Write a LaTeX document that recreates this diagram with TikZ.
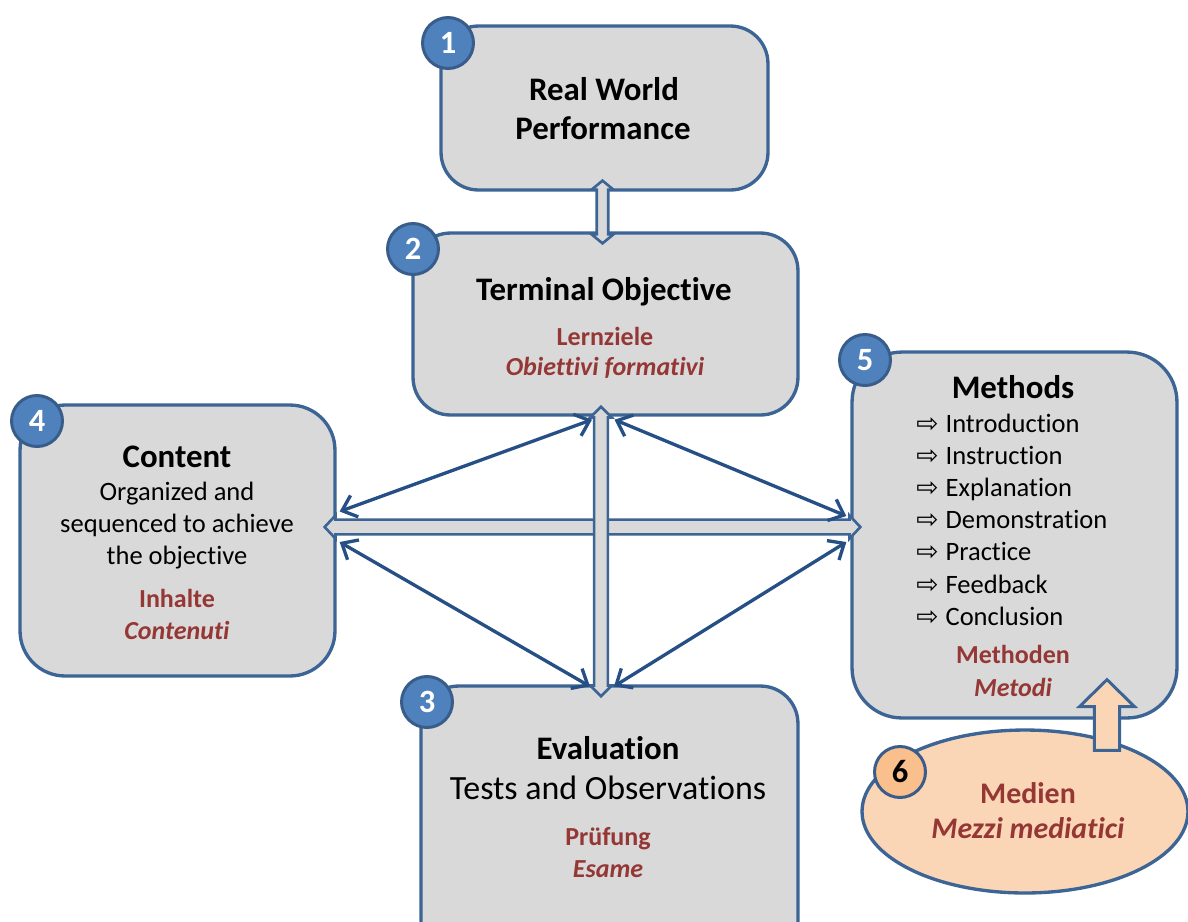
\documentclass[tikz,border=0pt]{standalone}
\usepackage{fontspec}
\setmainfont[Ligatures=NoCommon]{Carlito}
\newfontfamily\symfont{DejaVu Sans}
\usetikzlibrary{calc, arrows.meta, shapes.geometric}

\definecolor{boxfill}{HTML}{D9D9D9}
\definecolor{boxline}{HTML}{3C6494}
\definecolor{badgefill}{HTML}{4F81BD}
\definecolor{badgeline}{HTML}{385D8A}
\definecolor{linkblue}{HTML}{264F86}
\definecolor{dered}{HTML}{953735}
\definecolor{peach}{HTML}{FBD6B6}
\definecolor{peachdark}{HTML}{F9BF8C}

% hollow double arrow: from, to, shaft half width, head half width, head length, style
\newcommand\hollowlink[6]{%
  \coordinate (hA) at (#1);
  \coordinate (hB) at (#2);
  \coordinate (hA1) at ($(hA)!#5!(hB)$);
  \coordinate (hB1) at ($(hB)!#5!(hA)$);
  \filldraw[#6] (hA) -- ($(hA1)!#4!90:(hB)$) -- ($(hA1)!#3!90:(hB)$)
    -- ($(hB1)!#3!-90:(hA)$) -- ($(hB1)!#4!-90:(hA)$) -- (hB)
    -- ($(hB1)!#4!90:(hA)$) -- ($(hB1)!#3!90:(hA)$)
    -- ($(hA1)!#3!-90:(hB)$) -- ($(hA1)!#4!-90:(hB)$) -- cycle;
}

\begin{document}
\begin{tikzpicture}[
  x=0.02cm, y=-0.02cm,
  every node/.style={inner sep=0pt},
  stage/.style={draw=boxline, line width=1.9pt, fill=boxfill,
                rounded corners=0.75cm},
  media/.style={ellipse, draw=boxline, line width=1.9pt, fill=peach},
  badge/.style={circle, draw=badgeline, line width=1.7pt, fill=badgefill,
                minimum size=1.02cm, text=white,
                font=\fontsize{18.5}{20}\selectfont\bfseries},
  hollow/.style={draw=boxline, line width=1.5pt, fill=boxfill},
  link/.style={draw=linkblue, line width=1.9pt,
               >={Straight Barb[length=7.5pt,width=13pt]}, <->},
  title/.style={anchor=base, font=\fontsize{18.7}{22}\selectfont\bfseries},
  body/.style={anchor=base, font=\fontsize{15.1}{18}\selectfont},
  item/.style={anchor=base west, font=\fontsize{15.1}{18}\selectfont},
  deu/.style={anchor=base, text=dered,
              font=\fontsize{14.8}{17}\selectfont\bfseries},
  ita/.style={deu, font=\fontsize{14.8}{17}\selectfont\bfseries\itshape}
]
\useasboundingbox (0,0) rectangle (1188,921);
\clip (0,0) rectangle (1188,921);

% stages
\node[stage, minimum width=6.54cm, minimum height=3.28cm] (perf) at (604.5,108) {};
\node[stage, minimum width=7.7cm, minimum height=3.64cm] (term) at (605.5,324) {};
\node[stage, rounded corners=0.9cm, minimum width=6.3cm, minimum height=5.42cm]
  (content) at (177.5,540.5) {};
\node[stage, rounded corners=1cm, minimum width=6.5cm, minimum height=7.32cm]
  (methods) at (1014.5,535) {};
\node[stage, minimum width=7.54cm, minimum height=5.48cm] (eval) at (609.5,823) {};
\node[media, minimum width=6.52cm, minimum height=3.26cm] (medien) at (1025,811.5) {};

% hollow arrows
\hollowlink{$(perf.south)+(-2,-11)$}{$(term.north)+(-3,12)$}{3.3pt}{6.2pt}{5.1pt}{hollow}
\hollowlink{$(content.east)+(-12,-13.5)$}{$(methods.west)+(10,-8)$}{4.2pt}{6.6pt}{6.2pt}{hollow}
\hollowlink{$(term.south)+(-4.5,-10)$}{$(eval.north)+(-8.5,12)$}{3.9pt}{6.1pt}{6.2pt}{hollow}

% thin links
\draw[link] ($(content.east)+(3,-29)$) -- ($(term.south)+(-13.5,3)$);
\draw[link] ($(term.south)+(9,3)$) -- ($(methods.west)+(-4,-19)$);
\draw[link] ($(content.east)+(3,1.5)$) -- ($(eval.north)+(-19.5,2)$);
\draw[link] ($(eval.north)+(4.5,2)$) -- ($(methods.west)+(-4,7)$);

% media feed into methods
\coordinate (mt) at ($(methods.south)+(92.5,-40)$);
\coordinate (mb) at ($(medien.north)+(82,22)$);
\coordinate (mh) at ($(mt)!15.3pt!(mb)$);
\filldraw[draw=boxline, line width=1.7pt, fill=peach]
  (mt) -- ($(mh)!15.6pt!90:(mt)$) -- ($(mh)!7.2pt!90:(mt)$)
  -- ($(mb)!7.2pt!90:(mt)$) -- ($(mb)!7.2pt!-90:(mt)$)
  -- ($(mh)!7.2pt!-90:(mt)$) -- ($(mh)!15.6pt!-90:(mt)$) -- cycle;

% numbers
\node[badge] (b1) at (448,43) {1};
\node[badge] (b2) at (413,249) {2};
\node[badge] (b3) at (427,702) {3};
\node[badge] (b4) at (37,421) {4};
\node[badge] (b5) at (865,360) {5};
\node[badge, fill=peachdark, text=black] (b6) at (900,772) {6};

% texts
\node[title] (perf-a) at (604,100) {Real World};
\node[title] (perf-b) at (603,139) {Performance};

\node[title] (term-a) at (604,300) {Terminal Objective};
\node[deu] (term-de) at (605,345) {Lernziele};
\node[ita] (term-it) at (605,375) {Obiettivi formativi};

\node[title] (content-a) at (177,467) {Content};
\node[body] (content-b) at (177,500) {Organized and};
\node[body] (content-c) at (177,532) {sequenced to achieve};
\node[body] (content-d) at (177,564) {the objective};
\node[deu] (content-de) at (177,607) {Inhalte};
\node[ita] (content-it) at (177,639) {Contenuti};

\node[title] (methods-a) at (1013,398) {Methods};
\foreach \method [count=\i from 0] in {Introduction, Instruction, Explanation,
    Demonstration, Practice, Feedback, Conclusion}
  \node[item] (methods-\i) at (916,{432+32.2*\i}) {{\symfont ⇨}\hspace{4pt}\method};
\node[deu] (methods-de) at (1013,663) {Methoden};
\node[ita] (methods-it) at (1013,696) {Metodi};

\node[title] (eval-a) at (608,759) {Evaluation};
\node[anchor=base, font=\fontsize{19.3}{23}\selectfont] (eval-b) at (608,799)
  {Tests and Observations};
\node[deu] (eval-de) at (608,845) {Prüfung};
\node[ita] (eval-it) at (608,877) {Esame};

\node[deu, font=\fontsize{17}{20}\selectfont\bfseries] (medien-de) at (1028,803) {Medien};
\node[ita, font=\fontsize{17}{20}\selectfont\bfseries\itshape] (medien-it) at (1028,838)
  {Mezzi mediatici};
\end{tikzpicture}
\end{document}
